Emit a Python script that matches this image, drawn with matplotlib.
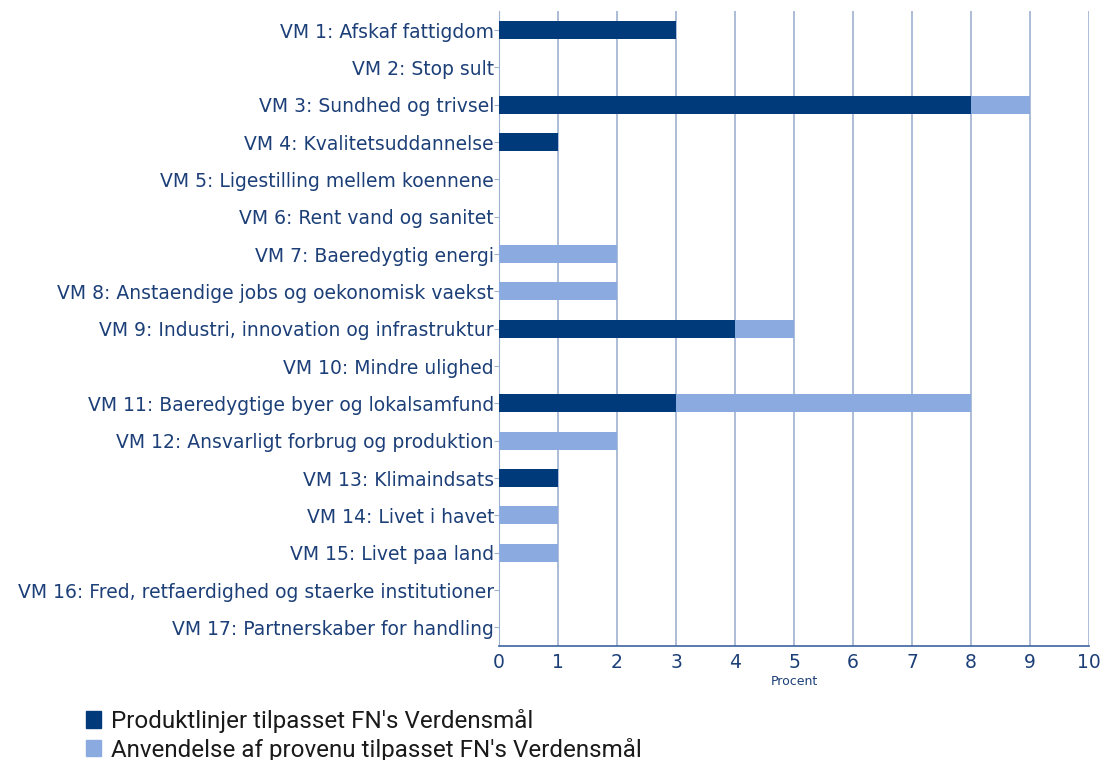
import matplotlib
matplotlib.use("Agg")
import matplotlib.pyplot as plt
from matplotlib.patches import Patch

plt.rcParams["font.family"] = ["DejaVu Sans"]

categories = [
    "VM 1: Afskaf fattigdom",
    "VM 2: Stop sult",
    "VM 3: Sundhed og trivsel",
    "VM 4: Kvalitetsuddannelse",
    "VM 5: Ligestilling mellem koennene",
    "VM 6: Rent vand og sanitet",
    "VM 7: Baeredygtig energi",
    "VM 8: Anstaendige jobs og oekonomisk vaekst",
    "VM 9: Industri, innovation og infrastruktur",
    "VM 10: Mindre ulighed",
    "VM 11: Baeredygtige byer og lokalsamfund",
    "VM 12: Ansvarligt forbrug og produktion",
    "VM 13: Klimaindsats",
    "VM 14: Livet i havet",
    "VM 15: Livet paa land",
    "VM 16: Fred, retfaerdighed og staerke institutioner",
    "VM 17: Partnerskaber for handling",
]
produktlinjer = [3, 0, 8, 1, 0, 0, 0, 0, 4, 0, 3, 0, 1, 0, 0, 0, 0]
provenu = [0, 0, 1, 0, 0, 0, 2, 2, 1, 0, 5, 2, 0, 1, 1, 0, 0]
series_names = ["Produktlinjer tilpasset FN's Verdensmål",
                "Anvendelse af provenu tilpasset FN's Verdensmål"]

DARK = "#003a7a"
LIGHT = "#8aaae0"
TEXT = "#1c3f78"
GRID = "#9fb1d1"

fig = plt.figure(figsize=(11.04, 7.6), dpi=100)
ax = fig.add_axes([0.452, 0.15, 0.5345, 0.835])

y = list(range(len(categories)))
ax.barh(y, produktlinjer, height=0.48, color=DARK, zorder=3)
ax.barh(y, provenu, left=produktlinjer, height=0.48, color=LIGHT, zorder=3)

ax.set_xlim(0, 10)
ax.set_ylim(len(categories) - 0.5, -0.5)
ax.set_xticks(range(0, 11))
ax.set_yticks(y)
ax.set_yticklabels(categories)
ax.tick_params(axis="y", colors=TEXT, labelsize=13.5, length=3.6, color=GRID, pad=0)
ax.tick_params(axis="x", colors=TEXT, labelsize=13.5, length=0, pad=5)
ax.grid(axis="x", color=GRID, linewidth=1.2, zorder=0)
for s in ["top", "right"]:
    ax.spines[s].set_visible(False)
ax.spines["left"].set_color(GRID)
ax.spines["bottom"].set_color("#3b63a3")
ax.spines["bottom"].set_linewidth(1.2)
ax.set_xlabel("Procent", color=TEXT, fontsize=9, labelpad=2)

handles = [Patch(color=DARK), Patch(color=LIGHT)]
fig.legend(handles, series_names, loc="lower left", bbox_to_anchor=(0.058, -0.031),
           frameon=False, handlelength=0.65, handleheight=0.65,
           handletextpad=0.4, labelspacing=0.2, labelcolor="#1a1a1a",
           prop={"family": "Roboto", "size": 17.4})

fig.savefig("out.png", dpi=100)
